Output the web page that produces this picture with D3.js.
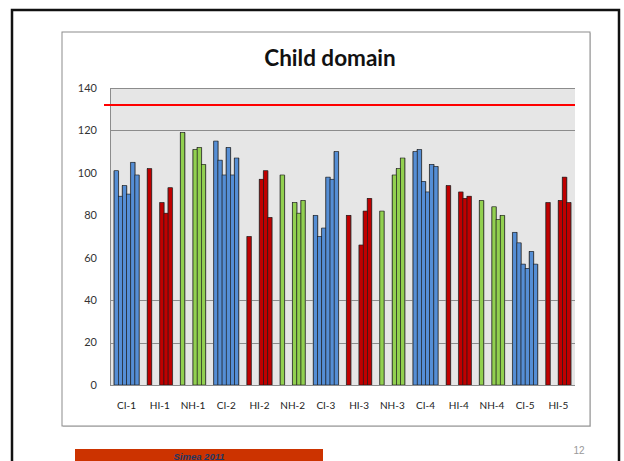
<!DOCTYPE html>
<html>
<head>
<meta charset="utf-8">
<script src="https://cdn.jsdelivr.net/npm/d3@7"></script>
<style>
  html, body { margin: 0; padding: 0; background: #fff; }
  svg { display: block; }
</style>
</head>
<body>
<svg id="chart" width="624" height="461"></svg>
<script>
// ---- data ----
const categories = ["CI-1","HI-1","NH-1","CI-2","HI-2","NH-2","CI-3","HI-3","NH-3","CI-4","HI-4","NH-4","CI-5","HI-5"];
const groupType  = ["CI","HI","NH","CI","HI","NH","CI","HI","NH","CI","HI","NH","CI","HI"];
const series1 = [101, 102, 119, 115, 70, 99, 80, 80, 82, 110, 94, 87, 72, 86];
const series2 = [89, null, null, 106, null, null, 70, null, null, 111, null, null, 67, null];
const series3 = [94, null, null, 99, null, null, 74, null, null, 96, null, null, 57, null];
const series4 = [90, 86, 111, 112, 97, 86, 98, 66, 99, 91, 91, 84, 55, 87];
const series5 = [105, 81, 112, 99, 101, 81, 97, 82, 102, 104, 88, 78, 63, 98];
const series6 = [99, 93, 104, 107, 79, 87, 110, 88, 107, 103, 89, 80, 57, 86];
const yTicks = [0, 20, 40, 60, 80, 100, 120, 140];
const gridValues = [20, 40, 120, 140];
const referenceValue = 132;
const title = "Child domain";

const allSeries = [series1, series2, series3, series4, series5, series6];
const colors = { CI: "#558ED5", HI: "#C00000", NH: "#92D050" };

(function () {
const svg = d3.select("#chart");

// slide background & border
svg.append("rect").attr("x", 0).attr("y", 0).attr("width", 624).attr("height", 461).attr("fill", "#fff");
svg.append("rect").attr("x", 12).attr("y", 10).attr("width", 607).attr("height", 480)
  .attr("fill", "none").attr("stroke", "#111").attr("stroke-width", 2.5);

// chart box
svg.append("rect").attr("x", 63).attr("y", 33).attr("width", 528).attr("height", 394)
  .attr("fill", "#b0b0b0").attr("opacity", 0.5);
svg.append("rect").attr("x", 62).attr("y", 32).attr("width", 528).attr("height", 394)
  .attr("fill", "#fff").attr("stroke", "#8c8c8c").attr("stroke-width", 1);

// plot geometry
const pLeft = 110, pRight = 575, pTop = 88, pBottom = 385;
const x0 = d3.scaleBand().domain(categories).range([pLeft, pRight]).padding(0);
const x1 = d3.scaleBand().domain(d3.range(6)).range([0, x0.bandwidth()]).paddingInner(0).paddingOuter(1);
const y = d3.scaleLinear().domain([0, 140]).range([pBottom, pTop]);

// plot background
svg.append("rect").attr("x", pLeft).attr("y", y(140)).attr("width", pRight - pLeft).attr("height", y(0) - y(140))
  .attr("fill", "#E6E6E6");

// gridlines
svg.append("g").selectAll("line").data(gridValues).join("line")
  .attr("x1", pLeft).attr("x2", pRight)
  .attr("y1", d => Math.round(y(d)) + 0.5).attr("y2", d => Math.round(y(d)) + 0.5)
  .attr("stroke", "#8c8c8c").attr("stroke-width", 1);

// bars
const barData = [];
allSeries.forEach((s, si) => s.forEach((v, ci) => {
  if (v != null) barData.push({ cat: categories[ci], type: groupType[ci], si, v });
}));
const gBars = svg.append("g");
gBars.selectAll("rect.shadow").data(barData).join("rect").attr("class", "shadow")
  .attr("x", d => x0(d.cat) + x1(d.si) - 0.8)
  .attr("y", d => y(d.v))
  .attr("width", x1.bandwidth() + 1.6)
  .attr("height", d => y(0) - y(d.v))
  .attr("fill", "#8a8a8a");
gBars.selectAll("rect.bar").data(barData).join("rect").attr("class", "bar")
  .attr("x", d => x0(d.cat) + x1(d.si))
  .attr("y", d => y(d.v))
  .attr("width", x1.bandwidth())
  .attr("height", d => y(0) - y(d.v))
  .attr("fill", d => colors[d.type])
  .attr("stroke", "#1a1a1a").attr("stroke-width", 0.6);

// axes lines
svg.append("line").attr("x1", pLeft + 0.5).attr("x2", pLeft + 0.5).attr("y1", y(140)).attr("y2", y(0))
  .attr("stroke", "#8c8c8c");
svg.append("line").attr("x1", pLeft).attr("x2", pRight).attr("y1", y(0) + 0.5).attr("y2", y(0) + 0.5)
  .attr("stroke", "#8c8c8c");

// reference line
svg.append("line").attr("x1", 104).attr("x2", pRight)
  .attr("y1", y(referenceValue)).attr("y2", y(referenceValue))
  .attr("stroke", "#FF0000").attr("stroke-width", 2);

// y tick labels
svg.append("g").selectAll("text").data(yTicks).join("text")
  .attr("x", 97).attr("y", d => y(d)).attr("dy", "0.35em")
  .attr("text-anchor", "end")
  .attr("font-family", "Lato, 'DejaVu Sans', sans-serif").attr("font-size", 11)
  .attr("fill", "#333")
  .text(d => d);

// x labels
svg.append("g").selectAll("text").data(categories).join("text")
  .attr("x", d => x0(d) + x0.bandwidth() / 2).attr("y", 405).attr("dy", "0.35em")
  .attr("text-anchor", "middle")
  .attr("font-family", "Lato, 'DejaVu Sans', sans-serif").attr("font-size", 10)
  .attr("fill", "#222")
  .text(d => d);

// title
svg.append("text").attr("x", 330).attr("y", 66).attr("text-anchor", "middle")
  .attr("font-family", "Lato, 'DejaVu Sans', sans-serif").attr("font-size", 22.5).attr("font-weight", "bold")
  .attr("fill", "#111").text(title);

// footer
svg.append("rect").attr("x", 75).attr("y", 449).attr("width", 248).attr("height", 14).attr("fill", "#CC3300");
svg.append("text").attr("x", 199).attr("y", 459.5).attr("text-anchor", "middle")
  .attr("font-family", "'Liberation Sans', Arial, sans-serif").attr("font-size", 9.5)
  .attr("font-weight", "bold").attr("font-style", "italic").attr("fill", "#1F3864")
  .text("Simea 2011");
svg.append("text").attr("x", 579).attr("y", 454).attr("text-anchor", "middle")
  .attr("font-family", "'Liberation Sans', Arial, sans-serif").attr("font-size", 10)
  .attr("fill", "#999").text("12");
})();
</script>
</body>
</html>
